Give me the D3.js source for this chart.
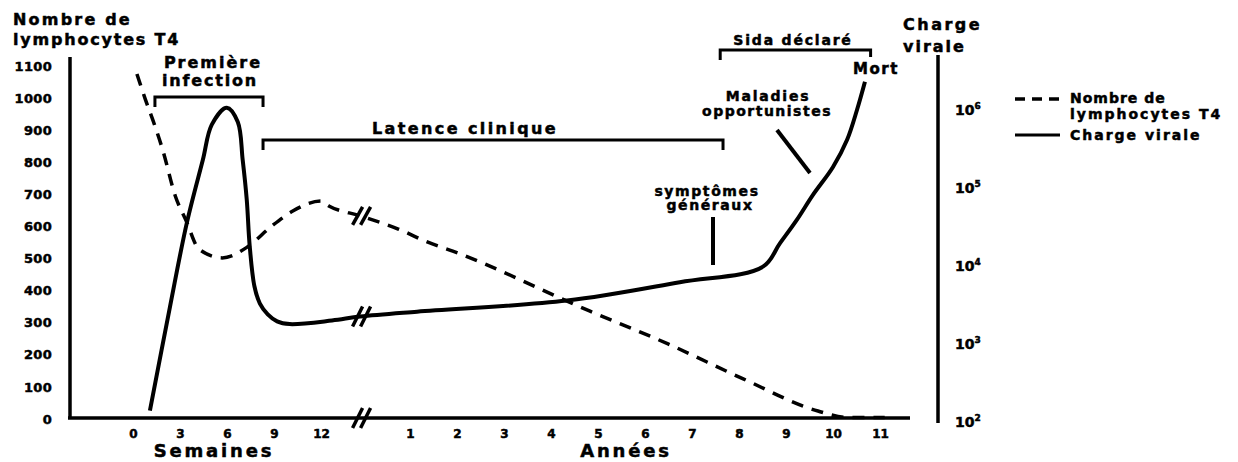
<!DOCTYPE html>
<html>
<head>
<meta charset="utf-8">
<script src="https://cdn.jsdelivr.net/npm/d3@7"></script>
<style>
  body { margin: 0; background: #fff; }
  text { font-family: "DejaVu Sans", sans-serif; font-weight: bold; fill: #000; stroke: #000; stroke-width: 0.5px; }
</style>
</head>
<body>
<div id="chart"></div>
<script>
// DATA
var weekTicks = [0, 3, 6, 9, 12]
var yearTicks = [1, 2, 3, 4, 5, 6, 7, 8, 9, 10, 11]
var t4Ticks = [0, 100, 200, 300, 400, 500, 600, 700, 800, 900, 1000, 1100]
var vlExponents = [2, 3, 4, 5, 6]

// lymphocytes T4 (dashed) : weeks part, then years part
var t4WeekT = [0.25, 0.76, 1.4, 1.9, 2.7, 3.4, 4.2, 5.7, 7.3, 8.85, 10.2, 12, 12.5, 14.5]
var t4WeekV = [1075, 1000, 913, 838, 695, 617, 530, 502, 536, 601, 648, 679, 664, 633]
var t4YearT = [0.75, 1.38, 1.91, 4.83, 6.49, 8.09, 9.68, 10.3, 11.1]
var t4YearV = [592, 551, 523, 336, 234, 125, 25, 5, 5]

// charge virale (solid, log)
var vlWeekT = [1.08, 2.36, 3.44, 4.46, 5.03, 5.99, 6.69, 7.0, 7.26, 7.45, 7.75, 8.1, 8.6, 9.2, 10.0, 12.7, 14.5]
var vlWeekV = [140, 3000, 36000, 230000, 650000, 1070000, 700000, 230000, 71000, 18000, 5500, 3300, 2400, 1950, 1800, 2000, 2250]
var vlYearT = [1.15, 4.34, 6.74, 8.51, 8.87, 9.23, 9.57, 10.0, 10.3, 10.51, 10.68]
var vlYearV = [2600, 3600, 6200, 9800, 19500, 39000, 81000, 186000, 415000, 1000000, 2300000]

// phases: [unit, time]
var phaseNames = ['Première infection', 'Latence clinique', 'Sida déclaré']
var phaseStart = [['S', 1.4], ['S', 8.3], ['A', 7.6]]
var phaseEnd = [['S', 8.3], ['A', 7.66], ['A', 10.8]]

// GLOBAL
var width = 1238
var height = 462
var svg = d3.select('#chart').append('svg')
  .attr('width', width)
  .attr('height', height)

var xWeek = d3.scaleLinear().domain([0, 12]).range([133, 321])
var xYear = d3.scaleLinear().domain([1, 11]).range([410, 880])
var yT4 = d3.scaleLinear().domain([0, 1100]).range([419, 66])
var yVL = d3.scaleLog().domain([1e2, 1e6]).range([422, 110])
var breakWeek = 14.5

function xPos(unit, t) {
  return unit == 'S' ? xWeek(t) : xYear(t)
}

function series(tW, vW, tY, vY) {
  var pts = tW.map((t, i) => ({ u: 'S', t: t, v: vW[i] }))
  return pts.concat(tY.map((t, i) => ({ u: 'A', t: t, v: vY[i] })))
}

function addText(x, y, str, size, ls, anchor) {
  return svg.append('text')
    .attr('x', x)
    .attr('y', y)
    .style('font-size', size + 'px')
    .style('letter-spacing', ls + 'px')
    .attr('text-anchor', anchor || 'start')
    .text(str)
}

// AXES
var gLeft = svg.append('g')
  .attr('transform', 'translate(70,0)')
  .call(d3.axisLeft(yT4).tickValues(t4Ticks).tickSize(0).tickPadding(18).tickFormat(d3.format('d')))
gLeft.select('.domain').remove()
gLeft.selectAll('text').style('font-size', '13px').style('letter-spacing', '0.3px')
  .style('font-family', '"DejaVu Sans", sans-serif')

var gWeek = svg.append('g')
  .attr('transform', 'translate(0,418)')
  .call(d3.axisBottom(xWeek).tickValues(weekTicks).tickSize(0).tickPadding(11))
var gYear = svg.append('g')
  .attr('transform', 'translate(0,418)')
  .call(d3.axisBottom(xYear).tickValues(yearTicks).tickSize(0).tickPadding(11))
;[gWeek, gYear].forEach(g => {
  g.select('.domain').remove()
  g.selectAll('text').style('font-size', '12px').style('font-family', '"DejaVu Sans", sans-serif')
})

var gRight = svg.append('g')
  .attr('transform', 'translate(938,0)')
  .call(d3.axisRight(yVL).tickValues(vlExponents.map(e => Math.pow(10, e))).tickSize(0).tickPadding(17).tickFormat(''))
gRight.select('.domain').remove()
gRight.selectAll('.tick text').each(function(d) {
  var t = d3.select(this).style('font-size', '14px').style('font-family', '"DejaVu Sans", sans-serif')
  t.append('tspan').text('10')
  t.append('tspan').attr('dy', -6).style('font-size', '9px').text(Math.round(Math.log10(d)))
})

// axis lines
svg.append('line').attr('x1', 70).attr('x2', 70).attr('y1', 57).attr('y2', 419)
  .style('stroke', '#000').style('stroke-width', 3.5)
svg.append('line').attr('x1', 68).attr('x2', 910).attr('y1', 418).attr('y2', 418)
  .style('stroke', '#000').style('stroke-width', 3.5)
svg.append('line').attr('x1', 938).attr('x2', 938).attr('y1', 55).attr('y2', 423)
  .style('stroke', '#000').style('stroke-width', 3.5)

// CURVES
var t4Data = series(t4WeekT, t4WeekV, t4YearT, t4YearV)
var vlData = series(vlWeekT, vlWeekV, vlYearT, vlYearV)

var lineT4 = d3.line()
  .x(d => xPos(d.u, d.t))
  .y(d => yT4(d.v))
  .curve(d3.curveMonotoneX)
var lineVL = d3.line()
  .x(d => xPos(d.u, d.t))
  .y(d => yVL(d.v))
  .curve(d3.curveCatmullRom.alpha(0.5))

svg.append('path').datum(t4Data)
  .attr('d', lineT4)
  .style('fill', 'none').style('stroke', '#000').style('stroke-width', 3.5)
  .style('stroke-dasharray', '12,9')

svg.append('path').datum(vlData)
  .attr('d', lineVL)
  .style('fill', 'none').style('stroke', '#000').style('stroke-width', 4)
  .style('stroke-linejoin', 'round')

// break marks (between weeks and years)
var xBreak = (xWeek(breakWeek) + xYear(0)) / 2
function breakMark(y, h) {
  ;[-4, 4].forEach(dx => {
    svg.append('line')
      .attr('x1', xBreak + dx - 5).attr('y1', y + h)
      .attr('x2', xBreak + dx + 5).attr('y2', y - h)
      .style('stroke', '#000').style('stroke-width', 3.5)
  })
}
breakMark(418, 10)
breakMark(yVL(vlWeekV[vlWeekV.length - 1]), 10)
breakMark(yT4(t4WeekV[t4WeekV.length - 1]), 9)

// PHASE BRACKETS
var bracketY = [97, 140, 50]
var bracketDrop = [[10, 10], [10, 10], [10, 7]]
phaseNames.forEach((name, i) => {
  var x1 = xPos(phaseStart[i][0], phaseStart[i][1])
  var x2 = xPos(phaseEnd[i][0], phaseEnd[i][1])
  var y = bracketY[i]
  svg.append('path')
    .attr('d', 'M' + x1 + ',' + (y + bracketDrop[i][0]) + 'V' + y + 'H' + x2 + 'V' + (y + bracketDrop[i][1]))
    .style('fill', 'none').style('stroke', '#000').style('stroke-width', 3)
})

addText(213, 68, 'Première', 16, 2, 'middle')
addText(210, 86, 'infection', 16, 1.8, 'middle')
addText(465, 134, 'Latence clinique', 16, 2.4, 'middle')
addText(793, 45, 'Sida déclaré', 14, 1.8, 'middle')
addText(853, 74, 'Mort', 15, 1.5, 'start')

addText(768, 101, 'Maladies', 14, 1.8, 'middle')
addText(767, 116, 'opportunistes', 14, 1.5, 'middle')
svg.append('line').attr('x1', 777).attr('y1', 130).attr('x2', 810).attr('y2', 173)
  .style('stroke', '#000').style('stroke-width', 4)

addText(707, 196, 'symptômes', 14, 1.6, 'middle')
addText(710, 210, 'généraux', 14, 1.6, 'middle')
svg.append('line').attr('x1', 713).attr('y1', 217).attr('x2', 713).attr('y2', 265)
  .style('stroke', '#000').style('stroke-width', 4)

// AXIS TITLES
addText(13, 25, 'Nombre de', 16, 2.2)
addText(13, 45, 'lymphocytes T4', 16, 1.8)
addText(903, 30, 'Charge', 16, 2.5)
addText(903, 52, 'virale', 16, 2)
addText(214, 457, 'Semaines', 18, 2.8, 'middle')
addText(626, 457, 'Années', 18, 2.8, 'middle')

// LEGEND
svg.append('line').attr('x1', 1015).attr('x2', 1060).attr('y1', 99).attr('y2', 99)
  .style('stroke', '#000').style('stroke-width', 3.5).style('stroke-dasharray', '10,7')
svg.append('line').attr('x1', 1015).attr('x2', 1060).attr('y1', 135).attr('y2', 135)
  .style('stroke', '#000').style('stroke-width', 3)
addText(1070, 103, 'Nombre de', 14, 1)
addText(1070, 119, 'lymphocytes T4', 14, 2)
addText(1070, 140, 'Charge virale', 14, 2)
</script>
</body>
</html>
